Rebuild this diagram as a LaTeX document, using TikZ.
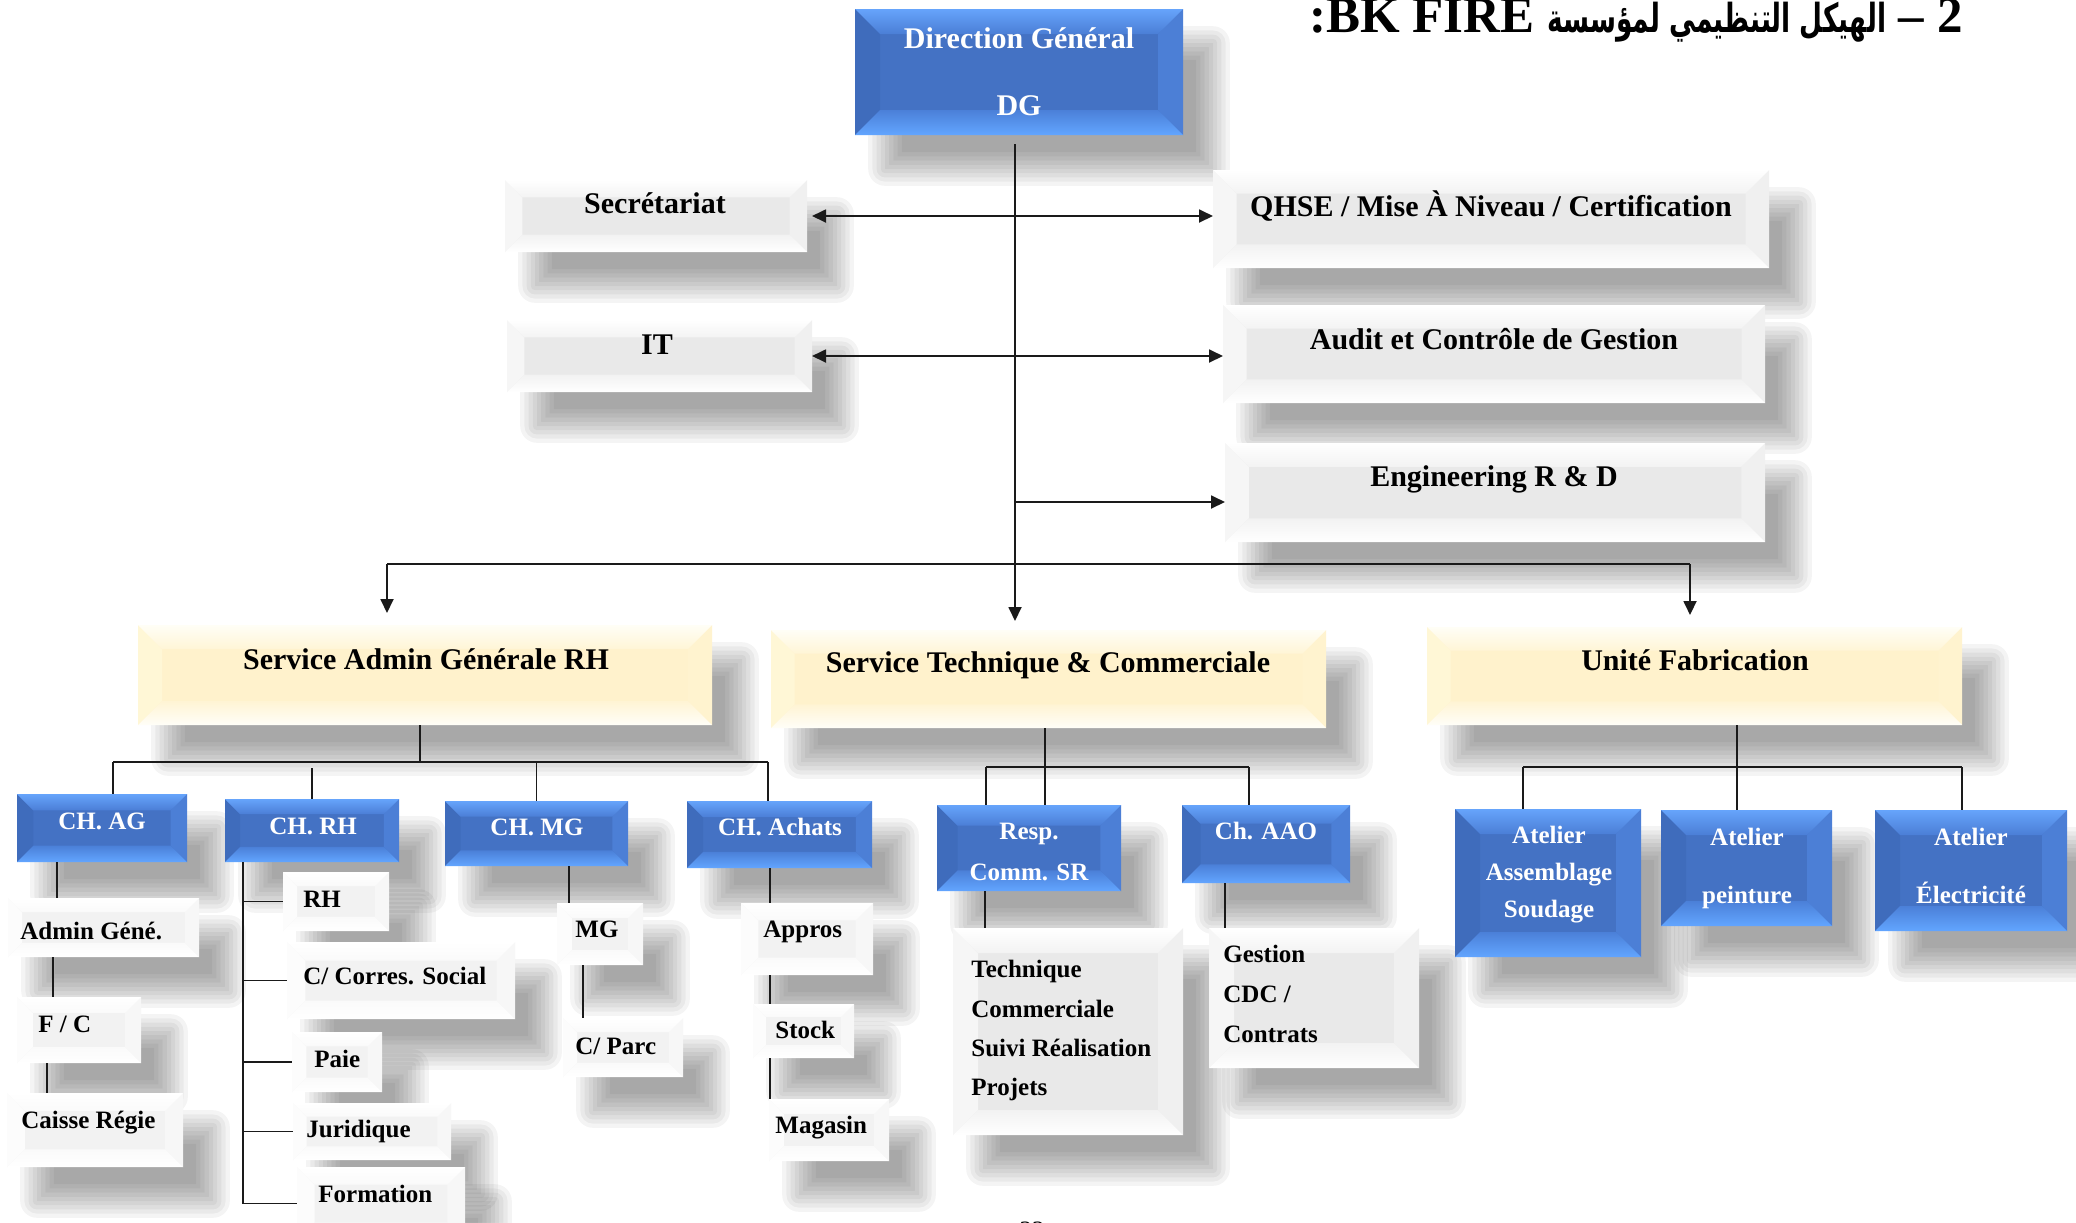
\documentclass[tikz,border=0pt]{standalone}
\usepackage{fontspec}
\setmainfont{Liberation Serif}
\newfontfamily\arabicfont[Script=Arabic, FakeStretch=0.66]{DejaVu Sans}
\TeXXeTstate=1
\usetikzlibrary{arrows.meta}
\pgfdeclarelayer{background}
\pgfsetlayers{background,main}

% colour sets for the bevelled boxes
\definecolor{bluF}{HTML}{4472C4}
\definecolor{bluT}{HTML}{66A4FB}
\definecolor{bluTi}{HTML}{4B7ED6}
\definecolor{bluBi}{HTML}{4B80D8}
\definecolor{bluB}{HTML}{62A5FF}
\definecolor{bluL}{HTML}{3F6CBC}
\definecolor{bluR}{HTML}{4C7FD6}
\definecolor{grF}{HTML}{E9E9E9}
\definecolor{grT}{HTML}{FFFFFF}
\definecolor{grTi}{HTML}{F3F3F3}
\definecolor{grBi}{HTML}{F2F2F2}
\definecolor{grB}{HTML}{FFFFFF}
\definecolor{grL}{HTML}{F6F6F6}
\definecolor{grR}{HTML}{F0F0F0}
\definecolor{ylF}{HTML}{FFF2CC}
\definecolor{ylT}{HTML}{FFFEF6}
\definecolor{ylTi}{HTML}{FFF5D6}
\definecolor{ylBi}{HTML}{FFF4D4}
\definecolor{ylB}{HTML}{FFFEF8}
\definecolor{ylL}{HTML}{FFF7D6}
\definecolor{ylR}{HTML}{FFF3CF}
\definecolor{wtF}{HTML}{F2F2F2}
\definecolor{wtT}{HTML}{FFFFFF}
\definecolor{wtTi}{HTML}{FAFAFA}
\definecolor{wtBi}{HTML}{FAFAFA}
\definecolor{wtB}{HTML}{FFFFFF}
\definecolor{wtL}{HTML}{FCFCFC}
\definecolor{wtR}{HTML}{F7F7F7}
\definecolor{lineclr}{HTML}{1A1A1A}

\newcommand\biglbl{\fontsize{15}{18}\selectfont\bfseries}
\newcommand\smalllbl{\fontsize{12.5}{15}\selectfont\bfseries}
\newcommand\titlelbl{\fontsize{25.5}{30}\selectfont\bfseries}

% face + four bevel bands of a box, inset \bev
\newcommand\bevelfill[7]{%
  \coordinate (bNW) at (path picture bounding box.north west);
  \coordinate (bNE) at (path picture bounding box.north east);
  \coordinate (bSW) at (path picture bounding box.south west);
  \coordinate (bSE) at (path picture bounding box.south east);
  \fill[#1] (bSW) rectangle (bNE);
  \fill[#6] (bNW) -- ([xshift=\bev pt,yshift=-\bev pt]bNW) -- ([xshift=\bev pt,yshift=\bev pt]bSW) -- (bSW) -- cycle;
  \fill[#7] (bNE) -- ([xshift=-\bev pt,yshift=-\bev pt]bNE) -- ([xshift=-\bev pt,yshift=\bev pt]bSE) -- (bSE) -- cycle;
  \shade[top color=#2,bottom color=#3] (bNW) -- (bNE) -- ([xshift=-\bev pt,yshift=-\bev pt]bNE) -- ([xshift=\bev pt,yshift=-\bev pt]bNW) -- cycle;
  \shade[top color=#4,bottom color=#5] ([xshift=\bev pt,yshift=\bev pt]bSW) -- ([xshift=-\bev pt,yshift=\bev pt]bSE) -- (bSE) -- (bSW) -- cycle;
}

% a box given by its corners in pixel units
\newcommand\bx[6]{%
  \pgfmathsetmacro\bw{(#5-#3)/2}%
  \pgfmathsetmacro\bh{(#6-#4)/2}%
  \pgfmathsetmacro\bev{min(0.24*min(\bw,\bh),12.5)}%
  \node[#1, minimum width=\bw pt, minimum height=\bh pt] (#2) at ({(#3+#5)/2},{(#4+#6)/2}) {};%
}

% soft drop shadow under a box
\newcommand\dropshade[1]{%
  \foreach \k in {0,...,8}{%
    \pgfmathsetmacro\gr{2.1*\k-8.4}%
    \pgfmathsetmacro\rc{max(\gr,0.1)}%
    \pgfmathsetmacro\xa{15-\gr}%
    \pgfmathsetmacro\xb{15+\gr}%
    \pgfmathsetmacro\ya{-17-\gr}%
    \pgfmathsetmacro\yb{-17+\gr}%
    \fill[black, fill opacity=0.045, rounded corners=\rc pt]
      ([xshift=\xa pt, yshift=\ya pt]#1.south west) rectangle ([xshift=\xb pt, yshift=\yb pt]#1.north east);
  }%
}

\tikzset{
  boxbase/.style={rectangle, inner sep=0pt, outer sep=0pt},
  bluebox/.style={boxbase, path picture={\bevelfill{bluF}{bluT}{bluTi}{bluBi}{bluB}{bluL}{bluR}}},
  greybox/.style={boxbase, path picture={\bevelfill{grF}{grT}{grTi}{grBi}{grB}{grL}{grR}}},
  yellowbox/.style={boxbase, path picture={\bevelfill{ylF}{ylT}{ylTi}{ylBi}{ylB}{ylL}{ylR}}},
  whitebox/.style={boxbase, path picture={\bevelfill{wtF}{wtT}{wtTi}{wtBi}{wtB}{wtL}{wtR}}},
  tbig/.style={inner sep=0pt, font=\biglbl, anchor=base},
  tsmall/.style={inner sep=0pt, font=\smalllbl, anchor=base west},
  tsmallc/.style={inner sep=0pt, font=\smalllbl, anchor=base},
  onblue/.style={text=white},
  conn/.style={draw=lineclr, line width=0.9pt},
  arr/.style={conn, -{Triangle[length=7pt,width=6.5pt]}},
  darr/.style={conn, {Triangle[length=7pt,width=6.5pt]}-{Triangle[length=7pt,width=6.5pt]}}
}

\begin{document}
\begin{tikzpicture}[x=0.5pt, y=-0.5pt]
\useasboundingbox (0,0) rectangle (2076,1222);

% ---------- boxes ----------
\bx{bluebox}{dg}{855}{9}{1183}{135}
\bx{greybox}{sec}{505}{180}{807}{252}
\bx{greybox}{it}{507}{320}{812}{392}
\bx{greybox}{qhse}{1213}{170}{1769}{268}
\bx{greybox}{audit}{1223}{305}{1765}{403}
\bx{greybox}{eng}{1225}{443}{1765}{542}
\bx{yellowbox}{sagrh}{138}{625}{712}{725}
\bx{yellowbox}{stc}{771}{630}{1326}{728}
\bx{yellowbox}{uf}{1427}{627}{1962}{725}
\bx{bluebox}{chag}{17}{794}{187}{862}
\bx{bluebox}{chrh}{225}{799}{399}{862}
\bx{bluebox}{chmg}{445}{801}{628}{866}
\bx{bluebox}{chach}{687}{801}{872}{868}
\bx{bluebox}{resp}{937}{805}{1121}{891}
\bx{bluebox}{aao}{1182}{805}{1350}{883}
\bx{bluebox}{aas}{1455}{809}{1641}{957}
\bx{bluebox}{ape}{1661}{810}{1832}{926}
\bx{bluebox}{ael}{1875}{810}{2067}{931}
\bx{whitebox}{admg}{8}{898}{199}{957}
\bx{whitebox}{fc}{17}{997}{141}{1063}
\bx{whitebox}{caisse}{7}{1093}{183}{1167}
\bx{whitebox}{rh}{283}{872}{389}{931}
\bx{whitebox}{corres}{287}{942}{515}{1019}
\bx{whitebox}{paie}{292}{1032}{382}{1092}
\bx{whitebox}{jur}{293}{1103}{451}{1160}
\bx{whitebox}{form}{297}{1167}{465}{1240}
\bx{whitebox}{mg}{557}{903}{643}{965}
\bx{whitebox}{parc}{563}{1018}{683}{1077}
\bx{whitebox}{appros}{741}{903}{873}{975}
\bx{whitebox}{stock}{753}{1004}{854}{1058}
\bx{whitebox}{mag}{769}{1099}{889}{1161}
\bx{greybox}{tech}{953}{928}{1183}{1135}
\bx{greybox}{gest}{1209}{928}{1419}{1068}

% ---------- background and shadows ----------
\begin{pgfonlayer}{background}
  \fill[white] (0,0) rectangle (2076,1222);
  \foreach \n in {dg,sec,it,qhse,audit,eng,sagrh,stc,uf,chag,chrh,chmg,chach,resp,aao,aas,ape,ael,
                  admg,fc,caisse,rh,corres,paie,jur,form,mg,parc,appros,stock,mag,tech,gest}
    {\dropshade{\n}}
\end{pgfonlayer}

% ---------- labels ----------
\node[anchor=base east, inner sep=0pt, font=\titlelbl] (title) at (1963,32)
  {\beginR 2 – {\arabicfont\fontsize{20}{24}\selectfont\bfseries الهيكل التنظيمي لمؤسسة} \beginL BK FIRE\endL:\endR};

\node[tbig, onblue] (dg-a) at (1019,48) {Direction Général};
\node[tbig, onblue] (dg-b) at (1019,115) {DG};
\node[tbig] (sec-t) at (655,213) {Secrétariat};
\node[tbig] (it-t) at (657,354) {IT};
\node[tbig] (qhse-t) at (1491,216) {QHSE / Mise À Niveau / Certification};
\node[tbig] (audit-t) at (1494,349) {Audit et Contrôle de Gestion};
\node[tbig] (eng-t) at (1494,486) {Engineering R \& D};
\node[tbig] (sagrh-t) at (426,669) {Service Admin Générale RH};
\node[tbig] (stc-t) at (1048,672) {Service Technique \& Commerciale};
\node[tbig] (uf-t) at (1695,670) {Unité Fabrication};

\node[tsmallc, onblue] (chag-t) at (102,829) {CH. AG};
\node[tsmallc, onblue] (chrh-t) at (313,834) {CH. RH};
\node[tsmallc, onblue] (chmg-t) at (537,835) {CH. MG};
\node[tsmallc, onblue] (chach-t) at (780,835) {CH. Achats};
\node[tsmallc, onblue] (resp-a) at (1029,839) {Resp.};
\node[tsmallc, onblue] (resp-b) at (1029,880) {Comm. SR};
\node[tsmallc, onblue] (aao-t) at (1266,839) {Ch. AAO};
\node[tsmallc, onblue] (aas-a) at (1549,843) {Atelier};
\node[tsmallc, onblue] (aas-b) at (1549,880) {Assemblage};
\node[tsmallc, onblue] (aas-c) at (1549,917) {Soudage};
\node[tsmallc, onblue] (ape-a) at (1747,845) {Atelier};
\node[tsmallc, onblue] (ape-b) at (1747,903) {peinture};
\node[tsmallc, onblue] (ael-a) at (1971,845) {Atelier};
\node[tsmallc, onblue] (ael-b) at (1971,903) {Électricité};

\node[tsmall] (admg-t) at (20,939) {Admin Géné.};
\node[tsmall] (fc-t) at (38,1032) {F / C};
\node[tsmall] (caisse-t) at (21,1128) {Caisse Régie};
\node[tsmall] (rh-t) at (303,907) {RH};
\node[tsmall] (corres-t) at (303,984) {C/ Corres. Social};
\node[tsmall] (paie-t) at (314,1067) {Paie};
\node[tsmall] (jur-t) at (306,1137) {Juridique};
\node[tsmall] (form-t) at (318,1202) {Formation};
\node[tsmallc] (mg-t) at (597,937) {MG};
\node[tsmall] (parc-t) at (575,1054) {C/ Parc};
\node[tsmall] (appros-t) at (763,937) {Appros};
\node[tsmall] (stock-t) at (775,1038) {Stock};
\node[tsmall] (mag-t) at (775,1133) {Magasin};
\node[tsmall] (tech-a) at (971,977) {Technique};
\node[tsmall] (tech-b) at (971,1017) {Commerciale};
\node[tsmall] (tech-c) at (971,1056) {Suivi Réalisation};
\node[tsmall] (tech-d) at (971,1095) {Projets};
\node[tsmall] (gest-a) at (1223,962) {Gestion};
\node[tsmall] (gest-b) at (1223,1002) {CDC /};
\node[tsmall] (gest-c) at (1223,1042) {Contrats};

\node[inner sep=0pt, anchor=base, font=\fontsize{12.5}{15}\selectfont] (page) at (1032,1238) {22};

% ---------- junction points ----------
\coordinate (t0) at (1015,144);
\coordinate (je) at (1015,502);
\coordinate (bl) at (387,564);
\coordinate (br) at (1690,564);
\coordinate (h1) at (113,762);
\coordinate (h2) at (768,762);
\coordinate (s0) at (420,0);
\coordinate (r0) at (312,768);
\coordinate (h3) at (986,767);
\coordinate (h4) at (1249,767);
\coordinate (c0) at (1045,0);
\coordinate (h5) at (1523,767);
\coordinate (h6) at (1962,767);
\coordinate (u0) at (1737,0);
\coordinate (xag1) at (57,0);
\coordinate (xag2) at (53,0);
\coordinate (xag3) at (47,0);
\coordinate (sp) at (243,0);
\coordinate (xmg1) at (569,0);
\coordinate (xmg2) at (583,0);
\coordinate (xac) at (770,0);
\coordinate (xrs) at (985,0);
\coordinate (xao) at (1225,0);

% ---------- connectors ----------
\draw[arr, shorten >=4.5pt] (t0) -- (t0 |- stc.north);
\draw[darr, shorten <=2.5pt] (sec.east) -- (sec.east -| qhse.west);
\draw[darr] (it.east) -- (it.east -| audit.west);
\draw[arr] (je) -- (je -| eng.west);
\draw[conn] (bl) -- (br);
\draw[arr, shorten >=6pt] (bl) -- (bl |- sagrh.north);
\draw[arr, shorten >=6pt] (br) -- (br |- uf.north);

\draw[conn] (sagrh.south -| s0) -- (h1 -| s0);
\draw[conn] (h1) -- (h2);
\draw[conn] (h1) -- (h1 |- chag.north);
\draw[conn] (h2) -- (h2 |- chach.north);
\draw[conn] (chmg.north |- h1) -- (chmg.north);
\draw[conn] (r0) -- (r0 |- chrh.north);

\draw[conn] (stc.south -| c0) -- (resp.north -| c0);
\draw[conn] (h3) -- (h4);
\draw[conn] (h3) -- (h3 |- resp.north);
\draw[conn] (h4) -- (h4 |- aao.north);

\draw[conn] (uf.south -| u0) -- (ape.north -| u0);
\draw[conn] (h5) -- (h6);
\draw[conn] (h5) -- (h5 |- aas.north);
\draw[conn] (h6) -- (h6 |- ael.north);

\draw[conn] (chag.south -| xag1) -- (admg.north -| xag1);
\draw[conn] (admg.south -| xag2) -- (fc.north -| xag2);
\draw[conn] (fc.south -| xag3) -- (caisse.north -| xag3);

\draw[conn] (chrh.south -| sp) -- (form.west -| sp);
\foreach \b in {rh,corres,paie,jur,form}
  {\draw[conn] (\b.west -| sp) -- (\b.west);}

\draw[conn] (chmg.south -| xmg1) -- (mg.north -| xmg1);
\draw[conn] (mg.south -| xmg2) -- (parc.north -| xmg2);
\draw[conn] (chach.south -| xac) -- (appros.north -| xac);
\draw[conn] (appros.south -| xac) -- (stock.north -| xac);
\draw[conn] (stock.south -| xac) -- (mag.north -| xac);
\draw[conn] (resp.south -| xrs) -- (tech.north -| xrs);
\draw[conn] (aao.south -| xao) -- (gest.north -| xao);
\end{tikzpicture}
\end{document}
